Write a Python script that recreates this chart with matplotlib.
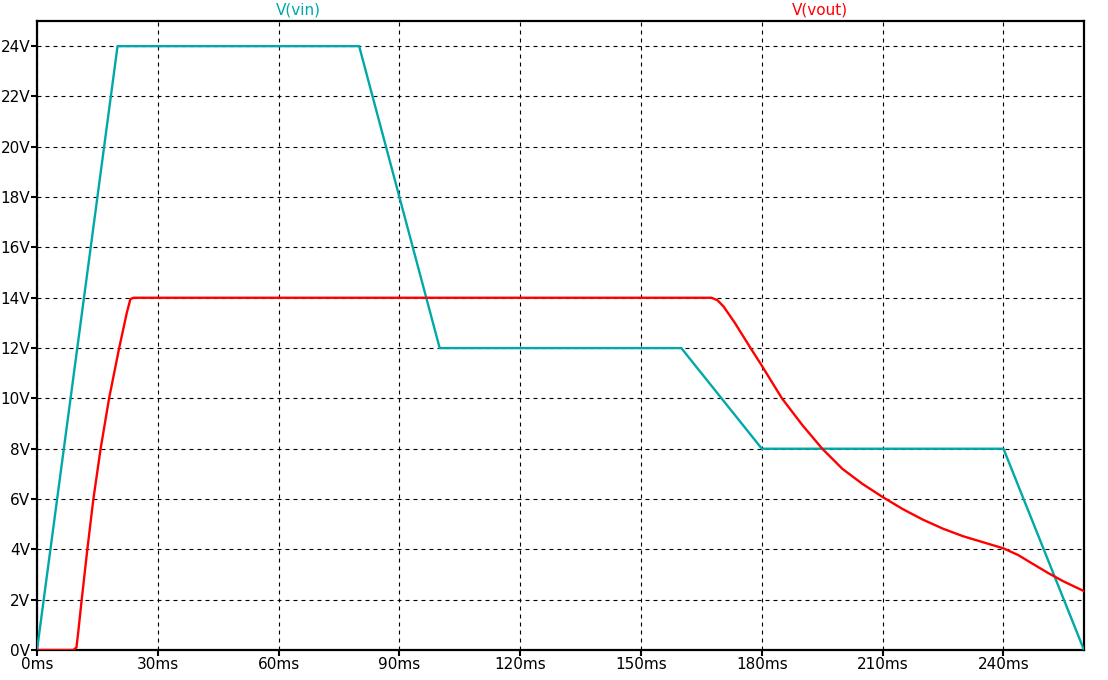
import matplotlib
matplotlib.use("Agg")
import matplotlib.pyplot as plt

# V(vin) piecewise linear source
t_vin = [0, 20, 80, 100, 160, 180, 240, 260]
v_vin = [0, 24, 24, 12, 12, 8, 8, 0]

# V(vout)
t_vout = [0, 9.0, 9.8, 10.3, 11.1, 12.5, 14.0, 15.8, 17.9, 20.4, 22.3, 23.2, 24.0,
          90, 167.5, 169.0, 170.5, 173.3, 177.2, 179.8, 185.0, 190.0, 195.0,
          200.0, 205.0, 210.0, 215.0, 220.0, 225.0, 230.0, 235.0, 240.0,
          243.7, 247.0, 251.2, 255.0, 260.0]
v_vout = [0, 0, 0.1, 0.8, 2.0, 4.0, 6.0, 8.0, 10.0, 12.0, 13.4, 13.95, 14.0,
          14.0, 14.0, 13.9, 13.65, 13.0, 12.0, 11.35, 10.0, 8.95, 8.0,
          7.2, 6.6, 6.08, 5.6, 5.18, 4.82, 4.52, 4.28, 4.04,
          3.77, 3.45, 3.05, 2.72, 2.34]

xticks = [0, 30, 60, 90, 120, 150, 180, 210, 240]
yticks = list(range(0, 25, 2))

fig = plt.figure(figsize=(11.08, 6.8), dpi=100)
ax = fig.add_axes([37 / 1108, 30 / 680, 1047 / 1108, 629 / 680])

ax.plot(t_vin, v_vin, color="#00A8A8", lw=1.7, zorder=3)
ax.plot(t_vout, v_vout, color="#FF0000", lw=1.7, zorder=3)

ax.set_xlim(0, 260)
ax.set_ylim(0, 25)
ax.set_xticks(xticks)
ax.set_xticklabels([f"{t}ms" for t in xticks])
ax.set_yticks(yticks)
ax.set_yticklabels([f"{v}V" for v in yticks])
ax.tick_params(direction="out", length=4, width=1.5, labelsize=11, pad=1)

ax.grid(True, color="black", lw=0.8, linestyle=(0, (3.6, 3.6)))
for s in ax.spines.values():
    s.set_linewidth(1.6)

fig.text(298 / 1108, 1 - 10 / 680, "V(vin)", color="#00A8A8", fontsize=11,
         ha="center", va="center")
fig.text(820 / 1108, 1 - 10 / 680, "V(vout)", color="#FF0000", fontsize=11,
         ha="center", va="center")

fig.savefig("out.png", dpi=100)
